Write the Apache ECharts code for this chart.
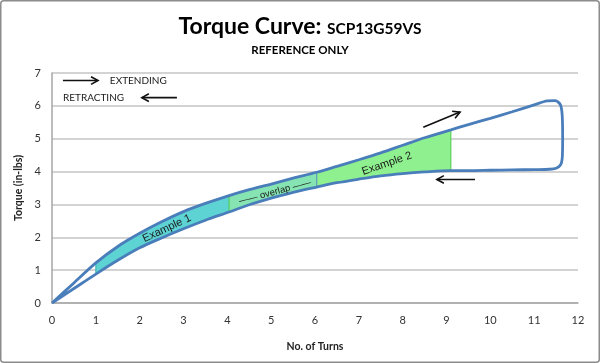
<!DOCTYPE html>
<html>
<head>
<meta charset="utf-8">
<script src="https://cdn.jsdelivr.net/npm/echarts@6/dist/echarts.min.js"></script>
<style>
html,body{margin:0;padding:0;background:#fff;}
#chart{width:600px;height:363px;}
</style>
</head>
<body>
<div id="chart"></div>
<script>
// ---- data ----
const turnsExtend  = [0, 0.5, 1, 1.5, 2, 2.5, 3, 3.5, 4.04, 4.5, 5, 5.5, 6.04, 6.5, 7, 7.5, 8, 8.5, 9.1, 9.5, 10, 10.5, 11, 11.3, 11.48, 11.6, 11.64, 11.65, 11.64, 11.6, 11.5];
const torqueExtend = [0, 0.61, 1.22, 1.72, 2.12, 2.47, 2.78, 3.03, 3.27, 3.45, 3.62, 3.8, 3.98, 4.16, 4.36, 4.57, 4.8, 5.03, 5.27, 5.43, 5.62, 5.82, 6.03, 6.15, 6.16, 6.03, 5.7, 5.0, 4.4, 4.2, 4.1];
const turnsRetract  = [11.35, 11, 10.5, 10, 9.5, 9.1, 8.5, 8, 7.5, 7, 6.5, 6.04, 5.5, 5, 4.5, 4.04, 3.5, 3, 2.5, 2, 1.5, 1, 0.5, 0];
const torqueRetract = [4.07, 4.06, 4.05, 4.04, 4.03, 4.03, 3.99, 3.94, 3.87, 3.77, 3.66, 3.53, 3.37, 3.19, 2.99, 2.77, 2.52, 2.26, 1.98, 1.68, 1.3, 0.88, 0.44, 0];

const regionNames = ['Example 1', 'Example 2'];
const regionStart = [1, 4.04];
const regionEnd   = [6.04, 9.1];

const noteTexts = ['Example 1', '\u2014\u2014 overlap \u2014\u2014', 'Example 2', 'EXTENDING', 'RETRACTING'];
const noteX = [2.62, 5.09, 7.64, 1.32, 0.25];
const noteY = [2.27, 3.38, 4.24, 6.77, 6.25];

const arrowFromX = [0.25, 2.85, 8.47, 9.65];
const arrowFromY = [6.77, 6.25, 5.35, 3.76];
const arrowToX   = [1.05, 2.05, 9.31, 8.78];
const arrowToY   = [6.77, 6.25, 5.81, 3.76];

const xTicks = [0, 12, 1];
const yTicks = [0, 7, 1];

// ---- styles ----
const LINE_BLUE = '#4A7EBB';
const noteStyle = [
  {font: '11px "Liberation Sans"', rot: 25, align: 'center'},
  {font: '9.5px "Liberation Sans"', rot: 15, align: 'center'},
  {font: '11px "Liberation Sans"', rot: 19, align: 'center'},
  {font: '10px Lato', rot: 0, align: 'left'},
  {font: '10px Lato', rot: 0, align: 'left'}
];

const curveData = [];
turnsExtend.forEach((x, i) => curveData.push([x, torqueExtend[i]]));
turnsRetract.forEach((x, i) => curveData.push([x, torqueRetract[i]]));

const LOOP_START = turnsExtend.indexOf(11);

function bandPoints(api, xs, xe) {
  const pts = [];
  for (let i = 0; i < turnsExtend.length && i <= LOOP_START; i++) {
    const x = turnsExtend[i];
    if (x >= xs - 1e-9 && x <= xe + 1e-9) pts.push(api.coord([x, torqueExtend[i]]));
  }
  for (let i = 0; i < turnsRetract.length; i++) {
    const x = turnsRetract[i];
    if (i > 0 && x >= xs - 1e-9 && x <= xe + 1e-9) pts.push(api.coord([x, torqueRetract[i]]));
  }
  return pts;
}
function edge(api, x) {
  const iu = turnsExtend.indexOf(x), il = turnsRetract.indexOf(x);
  return [api.coord([x, torqueExtend[iu]]), api.coord([x, torqueRetract[il]])];
}

const chart = echarts.init(document.getElementById('chart'), null, {renderer: 'canvas'});
const option = {
  animation: false,
  backgroundColor: '#fff',
  title: {
    text: '{a|Torque Curve: }{b|SCP13G59VS}',
    subtext: 'REFERENCE ONLY',
    left: 'center',
    top: 7,
    itemGap: 9,
    textStyle: {
      rich: {
        a: {fontFamily: 'Lato', fontWeight: 'bold', fontSize: 23, color: '#000', verticalAlign: 'bottom', lineHeight: 26},
        b: {fontFamily: 'Lato', fontWeight: 'bold', fontSize: 15.5, color: '#000', verticalAlign: 'bottom', lineHeight: 26, padding: [0, 0, 1, 0]}
      }
    },
    subtextStyle: {fontFamily: 'Lato', fontWeight: 'bold', fontSize: 11.5, color: '#000'}
  },
  graphic: [{
    type: 'rect', silent: true,
    shape: {x: 0.75, y: 0.75, width: 598.5, height: 361.5, r: 3},
    style: {fill: 'none', stroke: '#8C8C8C', lineWidth: 1.5}
  }],
  grid: {left: 52, right: 22, top: 73, bottom: 60},
  xAxis: {
    type: 'value', min: xTicks[0], max: xTicks[1], interval: xTicks[2],
    name: 'No. of Turns', nameLocation: 'middle', nameGap: 38,
    nameTextStyle: {fontFamily: 'Lato', fontWeight: 'bold', fontSize: 10.5, color: '#222'},
    axisLine: {show: true, lineStyle: {color: '#A6A6A6', width: 1.5}},
    axisTick: {show: false},
    splitLine: {show: false},
    axisLabel: {fontFamily: 'Lato', fontSize: 11, color: '#333', margin: 12}
  },
  yAxis: {
    type: 'value', min: yTicks[0], max: yTicks[1], interval: yTicks[2],
    name: 'Torque (in-lbs)', nameLocation: 'middle', nameGap: 21,
    nameTextStyle: {fontFamily: 'Lato', fontWeight: 'bold', fontSize: 10.5, color: '#222'},
    axisLine: {show: true, lineStyle: {color: '#A6A6A6', width: 1.5}},
    axisTick: {show: false},
    splitLine: {show: true, lineStyle: {color: '#C4C4C4', width: 1.5}},
    axisLabel: {fontFamily: 'Lato', fontSize: 11, color: '#333', margin: 11}
  },
  series: [
    {
      type: 'custom', name: 'regions', z: 1, silent: true,
      data: [[0, 0]],
      renderItem: function (params, api) {
        const children = [];
        children.push({type: 'polygon', shape: {points: bandPoints(api, regionStart[0], regionEnd[0])}, style: {fill: '#5ED3D3'}});
        children.push({type: 'polygon', shape: {points: bandPoints(api, regionStart[1], regionEnd[1])}, style: {fill: '#8EF08E'}});
        const os = Math.max(regionStart[0], regionStart[1]), oe = Math.min(regionEnd[0], regionEnd[1]);
        children.push({type: 'polygon', shape: {points: bandPoints(api, os, oe)}, style: {fill: '#86E4B2'}});
        const e1 = edge(api, regionStart[0]), e2 = edge(api, regionEnd[0]);
        const e3 = edge(api, regionStart[1]), e4 = edge(api, regionEnd[1]);
        children.push({type: 'line', shape: {x1: e1[0][0], y1: e1[0][1], x2: e1[1][0], y2: e1[1][1]}, style: {stroke: '#34AFAF', lineWidth: 1}});
        children.push({type: 'line', shape: {x1: e3[0][0], y1: e3[0][1], x2: e3[1][0], y2: e3[1][1]}, style: {stroke: '#4CC94C', lineWidth: 1}});
        children.push({type: 'line', shape: {x1: e2[0][0], y1: e2[0][1], x2: e2[1][0], y2: e2[1][1]}, style: {stroke: '#5A8AC6', lineWidth: 1}});
        children.push({type: 'line', shape: {x1: e4[0][0], y1: e4[0][1], x2: e4[1][0], y2: e4[1][1]}, style: {stroke: '#4CC94C', lineWidth: 1}});
        return {type: 'group', children: children};
      }
    },
    {
      type: 'line', name: 'Torque', z: 3,
      data: curveData,
      smooth: 0.3,
      showSymbol: false,
      lineStyle: {color: LINE_BLUE, width: 2.8},
      silent: true
    },
    {
      type: 'custom', name: 'notes', z: 4, silent: true,
      data: noteX.map((x, i) => [x, noteY[i]]),
      renderItem: function (params, api) {
        const i = params.dataIndex;
        const p = api.coord([noteX[i], noteY[i]]);
        const s = noteStyle[i];
        return {
          type: 'text', x: p[0], y: p[1], rotation: s.rot * Math.PI / 180,
          style: {text: noteTexts[i], font: s.font, fill: '#1a1a1a', align: s.align, verticalAlign: 'middle'}
        };
      }
    },
    {
      type: 'custom', name: 'arrows', z: 4, silent: true,
      data: arrowFromX.map((x, i) => [x, arrowFromY[i]]),
      renderItem: function (params, api) {
        const i = params.dataIndex;
        const a = api.coord([arrowFromX[i], arrowFromY[i]]);
        const b = api.coord([arrowToX[i], arrowToY[i]]);
        const ang = Math.atan2(b[1] - a[1], b[0] - a[0]);
        const L = 8, w = 0.5;
        const h1 = [b[0] - L * Math.cos(ang - w), b[1] - L * Math.sin(ang - w)];
        const h2 = [b[0] - L * Math.cos(ang + w), b[1] - L * Math.sin(ang + w)];
        return {
          type: 'group', children: [
            {type: 'line', shape: {x1: a[0], y1: a[1], x2: b[0], y2: b[1]}, style: {stroke: '#111', lineWidth: 1.6}},
            {type: 'polyline', shape: {points: [h1, b, h2]}, style: {stroke: '#111', lineWidth: 1.6, fill: 'none'}}
          ]
        };
      }
    }
  ]
};
chart.setOption(option);
</script>
</body>
</html>
